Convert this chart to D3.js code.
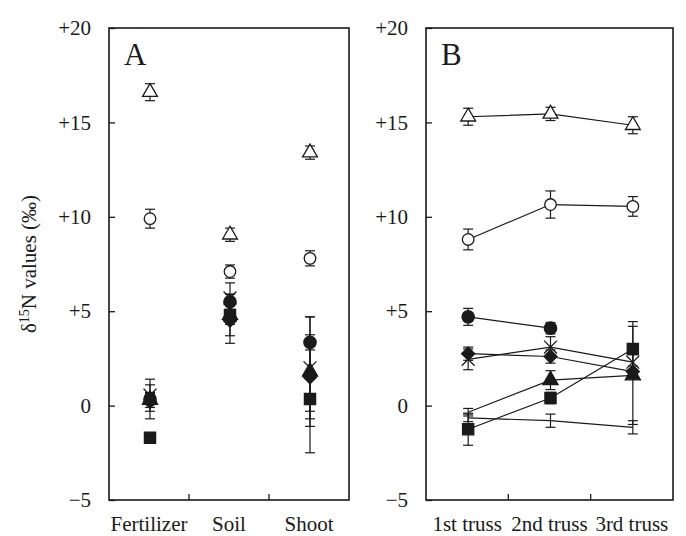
<!DOCTYPE html>
<html>
<head>
<meta charset="utf-8">
<script src="https://cdn.jsdelivr.net/npm/d3@7"></script>
<style>
  body { margin: 0; background: #fff; }
</style>
</head>
<body>
<script>
// categories
const panelACategories = ['Fertilizer', 'Soil', 'Shoot'];
const panelBCategories = ['1st truss', '2nd truss', '3rd truss'];
const yTickValues = [-5, 0, 5, 10, 15, 20];

// panel A values (mean, error)
const openTriA = [16.6, 9.05, 13.4];
const openTriAErr = [0.45, 0.35, 0.35];
const openCircA = [9.9, 7.1, 7.8];
const openCircAErr = [0.5, 0.35, 0.4];
const fillCircA = [0.35, 5.5, 3.35];
const fillCircAErr = [0.3, 0.4, 0.4];
const crossA = [0.55, 5.7, 2.0];
const crossAErr = [0.85, 0.8, 2.7];
const diamondA = [0.2, 4.5, 1.5];
const diamondAErr = [0.9, 1.2, 1.8];
const fillTriA = [0.3, 4.8, 1.8];
const fillTriAErr = [0.4, 0.5, 2.9];
const squareA = [-1.7, 4.8, 0.35];
const squareAErr = [0.1, 1.1, 2.85];

// panel B values (mean, error)
const openTriB = [15.3, 15.45, 14.85];
const openTriBErr = [0.45, 0.35, 0.45];
const openCircB = [8.8, 10.65, 10.55];
const openCircBErr = [0.55, 0.72, 0.52];
const fillCircB = [4.7, 4.1, null];
const fillCircBErr = [0.45, 0.3, null];
const crossB = [2.45, 3.1, 2.3];
const crossBErr = [0.55, 0.55, 0.4];
const diamondB = [2.75, 2.6, 1.8];
const diamondBErr = [0.35, 0.35, 0.3];
const fillTriB = [-0.35, 1.35, 1.6];
const fillTriBErr = [0.2, 0.5, 2.6];
const fillTriBShown = [false, true, true];
const squareB = [-1.25, 0.4, 3.0];
const squareBErr = [0.85, 0.3, 1.45];
const plainB = [-0.65, -0.8, -1.15];
const plainBErr = [0.2, 0.35, 0.35];

const ink = '#1a1a1a';
const serif = "'Liberation Serif', 'Times New Roman', Times, 'DejaVu Serif', serif";
const width = 686;
const height = 536;
const plotTop = 28;
const plotBottom = 500;

const svg = d3
  .select('body')
  .append('svg')
  .attr('width', width)
  .attr('height', height)
  .attr('font-family', serif);

const y = d3.scaleLinear().domain([-5, 20]).range([plotBottom, plotTop]);

const fmt = v => (v > 0 ? '+' + v : v < 0 ? '\u2212' + Math.abs(v) : '0');

const markerStyles = {
  openTri: { type: d3.symbolTriangle, size: 95, fill: '#fff', stroke: ink },
  openCirc: { type: d3.symbolCircle, size: 105, fill: '#fff', stroke: ink },
  fillCirc: { type: d3.symbolCircle, size: 120, fill: ink, stroke: ink },
  cross: { type: d3.symbolTimes, size: 110, fill: 'none', stroke: ink },
  diamond: { type: d3.symbolSquare, size: 85, fill: ink, stroke: ink, rotate: 45 },
  fillTri: { type: d3.symbolTriangle, size: 100, fill: ink, stroke: ink },
  square: { type: d3.symbolSquare, size: 125, fill: ink, stroke: ink },
  plain: null
};

const panels = [
  {
    label: 'A',
    left: 109,
    right: 349,
    categories: panelACategories,
    connect: false,
    series: [
      { m: 'fillTri', values: fillTriA, err: fillTriAErr },
      { m: 'diamond', values: diamondA, err: diamondAErr },
      { m: 'square', values: squareA, err: squareAErr },
      { m: 'cross', values: crossA, err: crossAErr },
      { m: 'fillCirc', values: fillCircA, err: fillCircAErr },
      { m: 'openCirc', values: openCircA, err: openCircAErr },
      { m: 'openTri', values: openTriA, err: openTriAErr }
    ]
  },
  {
    label: 'B',
    left: 426,
    right: 673,
    categories: panelBCategories,
    connect: true,
    series: [
      { m: 'plain', values: plainB, err: plainBErr },
      { m: 'fillTri', values: fillTriB, err: fillTriBErr, shown: fillTriBShown },
      { m: 'square', values: squareB, err: squareBErr },
      { m: 'diamond', values: diamondB, err: diamondBErr },
      { m: 'cross', values: crossB, err: crossBErr },
      { m: 'fillCirc', values: fillCircB, err: fillCircBErr },
      { m: 'openCirc', values: openCircB, err: openCircBErr },
      { m: 'openTri', values: openTriB, err: openTriBErr }
    ]
  }
];

panels.forEach(panel => {
  const x = d3
    .scaleBand()
    .domain(panel.categories)
    .range([panel.left, panel.right]);
  const px = i => x(panel.categories[i]) + x.bandwidth() / 2 + 1;

  // frame
  svg
    .append('rect')
    .attr('x', panel.left)
    .attr('y', plotTop)
    .attr('width', panel.right - panel.left)
    .attr('height', plotBottom - plotTop)
    .attr('fill', 'none')
    .attr('stroke', ink)
    .attr('stroke-width', 1.6);

  // y axis
  svg
    .append('g')
    .attr('transform', `translate(${panel.left},0)`)
    .call(
      d3
        .axisLeft(y)
        .tickValues(yTickValues)
        .tickSize(-6)
        .tickPadding(18)
        .tickFormat(fmt)
    )
    .attr('font-family', serif)
    .attr('font-size', 21)
    .call(g => g.select('.domain').remove())
    .call(g => g.selectAll('.tick line').attr('stroke', ink).attr('stroke-width', 1.3))
    .call(g => g.selectAll('.tick text').attr('fill', ink));

  // x axis: labels at band centres, ticks at band boundaries
  svg
    .append('g')
    .attr('transform', `translate(0,${plotBottom})`)
    .call(d3.axisBottom(x).tickSize(0).tickPadding(16))
    .attr('font-family', serif)
    .attr('font-size', 21)
    .call(g => g.select('.domain').remove())
    .call(g => g.selectAll('.tick text').attr('fill', ink));

  svg
    .append('g')
    .selectAll('line')
    .data(panel.categories.slice(1))
    .join('line')
    .attr('x1', d => x(d))
    .attr('x2', d => x(d))
    .attr('y1', plotBottom)
    .attr('y2', plotBottom - 6)
    .attr('stroke', ink)
    .attr('stroke-width', 1.3);

  // panel letter
  svg
    .append('text')
    .attr('x', panel.left + 15)
    .attr('y', 65)
    .attr('font-size', 31)
    .attr('fill', ink)
    .text(panel.label);

  const plot = svg.append('g');

  panel.series.forEach(s => {
    const pts = s.values
      .map((v, i) => ({ i, v, e: s.err[i] }))
      .filter(d => d.v !== null);

    // error bars
    const eb = plot.append('g').attr('stroke', ink).attr('stroke-width', 1.2);
    pts.forEach(d => {
      const cx = px(d.i);
      eb.append('line')
        .attr('x1', cx).attr('x2', cx)
        .attr('y1', y(d.v - d.e)).attr('y2', y(d.v + d.e));
      [d.v - d.e, d.v + d.e].forEach(t => {
        eb.append('line')
          .attr('x1', cx - 5).attr('x2', cx + 5)
          .attr('y1', y(t)).attr('y2', y(t));
      });
    });

    // connecting line
    if (panel.connect) {
      plot
        .append('path')
        .datum(pts)
        .attr('fill', 'none')
        .attr('stroke', ink)
        .attr('stroke-width', 1.2)
        .attr('d', d3.line().x(d => px(d.i)).y(d => y(d.v)));
    }
  });

  // markers on top
  panel.series.forEach(s => {
    const st = markerStyles[s.m];
    if (!st) return;
    const pts = s.values
      .map((v, i) => ({ i, v, shown: s.shown ? s.shown[i] : true }))
      .filter(d => d.v !== null && d.shown);
    plot
      .append('g')
      .selectAll('path')
      .data(pts)
      .join('path')
      .attr('transform', d => `translate(${px(d.i)},${y(d.v)}) rotate(${st.rotate || 0})`)
      .attr('d', d3.symbol().type(st.type).size(st.size))
      .attr('fill', st.fill)
      .attr('stroke', st.stroke)
      .attr('stroke-width', 1.3);
  });
});

// y axis title
const title = svg
  .append('text')
  .attr('transform', 'translate(36,264) rotate(-90)')
  .attr('text-anchor', 'middle')
  .attr('font-size', 21)
  .attr('fill', ink);
title.append('tspan').text('\u03b4');
title.append('tspan').attr('baseline-shift', 'super').attr('font-size', 14).text('15');
title.append('tspan').text('N values (\u2030)');
</script>
</body>
</html>
